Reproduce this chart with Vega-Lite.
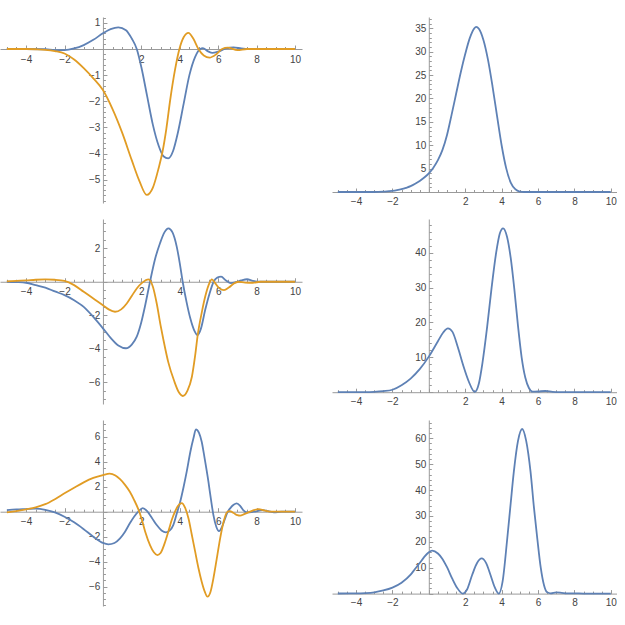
{
 "$schema": "https://vega.github.io/schema/vega-lite/v6.json",
 "background": "white",
 "padding": {"left": 0, "top": 12, "right": 0, "bottom": 0},
 "config": {"view": {"stroke": null}, "axis": {"grid": false, "domainColor": "#9a9a9a", "tickColor": "#9a9a9a", "labelColor": "#444444", "labelFont": "Liberation Sans", "labelFontSize": 10, "labelOverlap": false, "labelFlush": false, "labelBound": false, "format": "d"}},
 "datasets": {
  "A": [
   {"x":-5,"y":0,"s":"re"},{"x":-4,"y":0,"s":"re"},{"x":-3,"y":-0.01,"s":"re"},{"x":-2.5,"y":-0.04,"s":"re"},{"x":-2,"y":-0.04,"s":"re"},{"x":-1.5,"y":0.02,"s":"re"},{"x":-1,"y":0.15,"s":"re"},{"x":-0.5,"y":0.35,"s":"re"},{"x":0,"y":0.6,"s":"re"},{"x":0.4,"y":0.76,"s":"re"},{"x":0.8,"y":0.83,"s":"re"},{"x":1.2,"y":0.72,"s":"re"},{"x":1.5,"y":0.4,"s":"re"},{"x":1.76,"y":0,"s":"re"},{"x":2,"y":-0.7,"s":"re"},{"x":2.3,"y":-1.8,"s":"re"},{"x":2.6,"y":-2.9,"s":"re"},{"x":2.9,"y":-3.7,"s":"re"},{"x":3.15,"y":-4.1,"s":"re"},{"x":3.4,"y":-4.18,"s":"re"},{"x":3.65,"y":-3.9,"s":"re"},{"x":3.9,"y":-3.2,"s":"re"},{"x":4.2,"y":-2.1,"s":"re"},{"x":4.5,"y":-1,"s":"re"},{"x":4.8,"y":-0.3,"s":"re"},{"x":5.06,"y":0,"s":"re"},{"x":5.2,"y":0.03,"s":"re"},{"x":5.45,"y":-0.08,"s":"re"},{"x":5.7,"y":-0.15,"s":"re"},{"x":6,"y":-0.1,"s":"re"},{"x":6.4,"y":0.02,"s":"re"},{"x":6.8,"y":0.06,"s":"re"},{"x":7.2,"y":0.02,"s":"re"},{"x":7.6,"y":0,"s":"re"},{"x":10,"y":0,"s":"re"},
   {"x":-5,"y":0,"s":"im"},{"x":-4,"y":0,"s":"im"},{"x":-3.5,"y":-0.01,"s":"im"},{"x":-3,"y":-0.03,"s":"im"},{"x":-2.5,"y":-0.08,"s":"im"},{"x":-2,"y":-0.17,"s":"im"},{"x":-1.5,"y":-0.4,"s":"im"},{"x":-1,"y":-0.73,"s":"im"},{"x":-0.5,"y":-1.12,"s":"im"},{"x":0,"y":-1.57,"s":"im"},{"x":0.5,"y":-2.3,"s":"im"},{"x":1,"y":-3.2,"s":"im"},{"x":1.5,"y":-4.25,"s":"im"},{"x":1.9,"y":-5.05,"s":"im"},{"x":2.28,"y":-5.58,"s":"im"},{"x":2.6,"y":-5.3,"s":"im"},{"x":2.9,"y":-4.55,"s":"im"},{"x":3.1,"y":-3.93,"s":"im"},{"x":3.3,"y":-3.05,"s":"im"},{"x":3.5,"y":-1.95,"s":"im"},{"x":3.75,"y":-0.8,"s":"im"},{"x":3.98,"y":0,"s":"im"},{"x":4.2,"y":0.45,"s":"im"},{"x":4.45,"y":0.62,"s":"im"},{"x":4.7,"y":0.4,"s":"im"},{"x":4.97,"y":0,"s":"im"},{"x":5.25,"y":-0.25,"s":"im"},{"x":5.55,"y":-0.33,"s":"im"},{"x":5.9,"y":-0.2,"s":"im"},{"x":6.2,"y":0,"s":"im"},{"x":6.5,"y":0.05,"s":"im"},{"x":7,"y":-0.04,"s":"im"},{"x":7.5,"y":0,"s":"im"},{"x":10,"y":0,"s":"im"}
  ],
  "B": [
   {"x":-5,"y":0},{"x":-3,"y":0},{"x":-2.5,"y":0.07},{"x":-2,"y":0.22},{"x":-1.75,"y":0.38},{"x":-1.5,"y":0.6},{"x":-1.25,"y":0.9},{"x":-1,"y":1.25},{"x":-0.75,"y":1.75},{"x":-0.5,"y":2.35},{"x":-0.25,"y":3.1},{"x":0,"y":4},{"x":0.25,"y":5.2},{"x":0.5,"y":6.8},{"x":0.75,"y":9},{"x":1,"y":12.2},{"x":1.25,"y":16.5},{"x":1.5,"y":21},{"x":1.75,"y":25.5},{"x":2,"y":29.5},{"x":2.25,"y":32.9},{"x":2.5,"y":35},{"x":2.6,"y":35.3},{"x":2.75,"y":34.9},{"x":3,"y":32.5},{"x":3.25,"y":28.3},{"x":3.5,"y":22.6},{"x":3.75,"y":16.2},{"x":4,"y":10},{"x":4.25,"y":5.1},{"x":4.5,"y":2},{"x":4.75,"y":0.6},{"x":5,"y":0.1},{"x":5.25,"y":0},{"x":10,"y":0}
  ],
  "C": [
   {"x":-5,"y":0,"s":"re"},{"x":-4.5,"y":-0.02,"s":"re"},{"x":-4,"y":-0.06,"s":"re"},{"x":-3.5,"y":-0.2,"s":"re"},{"x":-3,"y":-0.35,"s":"re"},{"x":-2.5,"y":-0.58,"s":"re"},{"x":-2,"y":-0.8,"s":"re"},{"x":-1.5,"y":-1.1,"s":"re"},{"x":-1,"y":-1.5,"s":"re"},{"x":-0.5,"y":-2.1,"s":"re"},{"x":0,"y":-2.78,"s":"re"},{"x":0.4,"y":-3.35,"s":"re"},{"x":0.8,"y":-3.8,"s":"re"},{"x":1.2,"y":-3.97,"s":"re"},{"x":1.5,"y":-3.75,"s":"re"},{"x":1.76,"y":-3.28,"s":"re"},{"x":2,"y":-2.4,"s":"re"},{"x":2.2,"y":-1.4,"s":"re"},{"x":2.45,"y":0,"s":"re"},{"x":2.7,"y":1.3,"s":"re"},{"x":2.97,"y":2.3,"s":"re"},{"x":3.2,"y":2.95,"s":"re"},{"x":3.41,"y":3.19,"s":"re"},{"x":3.62,"y":2.95,"s":"re"},{"x":3.84,"y":2.1,"s":"re"},{"x":4,"y":1.1,"s":"re"},{"x":4.15,"y":0,"s":"re"},{"x":4.35,"y":-1.2,"s":"re"},{"x":4.55,"y":-2.2,"s":"re"},{"x":4.75,"y":-2.9,"s":"re"},{"x":4.93,"y":-3.18,"s":"re"},{"x":5.1,"y":-2.8,"s":"re"},{"x":5.32,"y":-1.69,"s":"re"},{"x":5.55,"y":-0.7,"s":"re"},{"x":5.76,"y":0,"s":"re"},{"x":5.95,"y":0.25,"s":"re"},{"x":6.15,"y":0.3,"s":"re"},{"x":6.4,"y":0.08,"s":"re"},{"x":6.65,"y":-0.08,"s":"re"},{"x":6.9,"y":-0.03,"s":"re"},{"x":7.2,"y":0.08,"s":"re"},{"x":7.5,"y":0.15,"s":"re"},{"x":7.8,"y":0.05,"s":"re"},{"x":8.2,"y":0,"s":"re"},{"x":10,"y":0,"s":"re"},
   {"x":-5,"y":0.02,"s":"im"},{"x":-4.5,"y":0.05,"s":"im"},{"x":-4,"y":0.08,"s":"im"},{"x":-3.5,"y":0.12,"s":"im"},{"x":-3,"y":0.14,"s":"im"},{"x":-2.5,"y":0.12,"s":"im"},{"x":-2,"y":0.05,"s":"im"},{"x":-1.5,"y":-0.2,"s":"im"},{"x":-1,"y":-0.6,"s":"im"},{"x":-0.5,"y":-1,"s":"im"},{"x":0,"y":-1.4,"s":"im"},{"x":0.3,"y":-1.65,"s":"im"},{"x":0.63,"y":-1.79,"s":"im"},{"x":0.95,"y":-1.65,"s":"im"},{"x":1.24,"y":-1.3,"s":"im"},{"x":1.5,"y":-0.85,"s":"im"},{"x":1.76,"y":-0.4,"s":"im"},{"x":2.05,"y":-0.05,"s":"im"},{"x":2.37,"y":0.14,"s":"im"},{"x":2.6,"y":-0.3,"s":"im"},{"x":2.8,"y":-1.3,"s":"im"},{"x":3,"y":-2.6,"s":"im"},{"x":3.15,"y":-3.48,"s":"im"},{"x":3.4,"y":-4.8,"s":"im"},{"x":3.7,"y":-5.9,"s":"im"},{"x":3.95,"y":-6.6,"s":"im"},{"x":4.15,"y":-6.82,"s":"im"},{"x":4.4,"y":-6.5,"s":"im"},{"x":4.63,"y":-5.67,"s":"im"},{"x":4.8,"y":-4.4,"s":"im"},{"x":4.93,"y":-3.2,"s":"im"},{"x":5.15,"y":-1.8,"s":"im"},{"x":5.32,"y":-0.9,"s":"im"},{"x":5.5,"y":-0.2,"s":"im"},{"x":5.67,"y":0.14,"s":"im"},{"x":5.85,"y":-0.1,"s":"im"},{"x":6.05,"y":-0.38,"s":"im"},{"x":6.3,"y":-0.5,"s":"im"},{"x":6.55,"y":-0.35,"s":"im"},{"x":6.8,"y":-0.12,"s":"im"},{"x":7.05,"y":0,"s":"im"},{"x":7.4,"y":-0.05,"s":"im"},{"x":7.8,"y":-0.06,"s":"im"},{"x":8.2,"y":0,"s":"im"},{"x":10,"y":0,"s":"im"}
  ],
  "D": [
   {"x":-5,"y":0},{"x":-3.5,"y":0.02},{"x":-3,"y":0.1},{"x":-2.5,"y":0.3},{"x":-2,"y":0.7},{"x":-1.5,"y":2},{"x":-1,"y":3.9},{"x":-0.5,"y":6.6},{"x":0,"y":10.2},{"x":0.5,"y":14.6},{"x":0.8,"y":17.2},{"x":1.05,"y":18.3},{"x":1.3,"y":17.3},{"x":1.6,"y":12.8},{"x":1.9,"y":7.5},{"x":2.2,"y":3},{"x":2.52,"y":0.1},{"x":2.75,"y":2.5},{"x":2.95,"y":8.5},{"x":3.2,"y":18.5},{"x":3.45,"y":30},{"x":3.7,"y":40},{"x":3.9,"y":45.5},{"x":4.08,"y":47},{"x":4.3,"y":44.5},{"x":4.5,"y":38.5},{"x":4.7,"y":29.5},{"x":4.9,"y":19},{"x":5.1,"y":10},{"x":5.3,"y":4.2},{"x":5.5,"y":1.2},{"x":5.7,"y":0.15},{"x":6,"y":0.2},{"x":6.4,"y":0.35},{"x":6.8,"y":0.1},{"x":7.2,"y":0.03},{"x":7.6,"y":0.05},{"x":8,"y":0},{"x":10,"y":0}
  ],
  "E": [
   {"x":-5,"y":0.13,"s":"re"},{"x":-4.5,"y":0.18,"s":"re"},{"x":-4,"y":0.21,"s":"re"},{"x":-3.5,"y":0.24,"s":"re"},{"x":-3,"y":0.15,"s":"re"},{"x":-2.5,"y":-0.05,"s":"re"},{"x":-2,"y":-0.4,"s":"re"},{"x":-1.5,"y":-0.85,"s":"re"},{"x":-1,"y":-1.4,"s":"re"},{"x":-0.5,"y":-2,"s":"re"},{"x":0,"y":-2.5,"s":"re"},{"x":0.28,"y":-2.61,"s":"re"},{"x":0.6,"y":-2.5,"s":"re"},{"x":0.89,"y":-2.13,"s":"re"},{"x":1.15,"y":-1.6,"s":"re"},{"x":1.4,"y":-0.93,"s":"re"},{"x":1.62,"y":-0.4,"s":"re"},{"x":1.84,"y":0,"s":"re"},{"x":2.07,"y":0.28,"s":"re"},{"x":2.3,"y":0.05,"s":"re"},{"x":2.55,"y":-0.5,"s":"re"},{"x":2.8,"y":-1.07,"s":"re"},{"x":3.05,"y":-1.5,"s":"re"},{"x":3.28,"y":-1.65,"s":"re"},{"x":3.48,"y":-1.5,"s":"re"},{"x":3.66,"y":-1.07,"s":"re"},{"x":3.85,"y":-0.1,"s":"re"},{"x":4,"y":0.67,"s":"re"},{"x":4.2,"y":2,"s":"re"},{"x":4.36,"y":3.2,"s":"re"},{"x":4.55,"y":4.8,"s":"re"},{"x":4.71,"y":5.87,"s":"re"},{"x":4.84,"y":6.59,"s":"re"},{"x":5,"y":6.3,"s":"re"},{"x":5.14,"y":5.6,"s":"re"},{"x":5.3,"y":4.2,"s":"re"},{"x":5.49,"y":2.4,"s":"re"},{"x":5.62,"y":1,"s":"re"},{"x":5.75,"y":-0.27,"s":"re"},{"x":5.9,"y":-1.2,"s":"re"},{"x":6.04,"y":-1.55,"s":"re"},{"x":6.2,"y":-1.2,"s":"re"},{"x":6.36,"y":-0.53,"s":"re"},{"x":6.5,"y":0,"s":"re"},{"x":6.62,"y":0.27,"s":"re"},{"x":6.8,"y":0.55,"s":"re"},{"x":6.96,"y":0.67,"s":"re"},{"x":7.15,"y":0.45,"s":"re"},{"x":7.3,"y":0.13,"s":"re"},{"x":7.5,"y":-0.05,"s":"re"},{"x":7.85,"y":0,"s":"re"},{"x":8.3,"y":0.12,"s":"re"},{"x":8.6,"y":0.05,"s":"re"},{"x":8.9,"y":-0.05,"s":"re"},{"x":9.3,"y":0,"s":"re"},{"x":10,"y":0,"s":"re"},
   {"x":-5,"y":-0.05,"s":"im"},{"x":-4.5,"y":0.05,"s":"im"},{"x":-4,"y":0.19,"s":"im"},{"x":-3.5,"y":0.35,"s":"im"},{"x":-3,"y":0.6,"s":"im"},{"x":-2.5,"y":1,"s":"im"},{"x":-2,"y":1.47,"s":"im"},{"x":-1.5,"y":1.92,"s":"im"},{"x":-1,"y":2.35,"s":"im"},{"x":-0.5,"y":2.7,"s":"im"},{"x":0,"y":2.93,"s":"im"},{"x":0.35,"y":3.05,"s":"im"},{"x":0.65,"y":2.9,"s":"im"},{"x":0.89,"y":2.6,"s":"im"},{"x":1.15,"y":2.15,"s":"im"},{"x":1.4,"y":1.6,"s":"im"},{"x":1.62,"y":0.95,"s":"im"},{"x":1.84,"y":0.2,"s":"im"},{"x":2,"y":-0.5,"s":"im"},{"x":2.2,"y":-1.6,"s":"im"},{"x":2.45,"y":-2.67,"s":"im"},{"x":2.65,"y":-3.25,"s":"im"},{"x":2.83,"y":-3.47,"s":"im"},{"x":3,"y":-3.3,"s":"im"},{"x":3.24,"y":-2.4,"s":"im"},{"x":3.42,"y":-1.5,"s":"im"},{"x":3.58,"y":-0.67,"s":"im"},{"x":3.75,"y":0,"s":"im"},{"x":3.9,"y":0.45,"s":"im"},{"x":4.1,"y":0.69,"s":"im"},{"x":4.28,"y":0.3,"s":"im"},{"x":4.45,"y":-0.53,"s":"im"},{"x":4.62,"y":-1.8,"s":"im"},{"x":4.8,"y":-3.2,"s":"im"},{"x":4.97,"y":-4.5,"s":"im"},{"x":5.14,"y":-5.6,"s":"im"},{"x":5.3,"y":-6.4,"s":"im"},{"x":5.44,"y":-6.8,"s":"im"},{"x":5.6,"y":-6.4,"s":"im"},{"x":5.75,"y":-5.33,"s":"im"},{"x":5.92,"y":-3.8,"s":"im"},{"x":6.1,"y":-2.13,"s":"im"},{"x":6.28,"y":-0.8,"s":"im"},{"x":6.45,"y":-0.05,"s":"im"},{"x":6.6,"y":0.05,"s":"im"},{"x":6.8,"y":-0.1,"s":"im"},{"x":7,"y":-0.28,"s":"im"},{"x":7.14,"y":-0.32,"s":"im"},{"x":7.35,"y":-0.2,"s":"im"},{"x":7.65,"y":0,"s":"im"},{"x":7.85,"y":0.12,"s":"im"},{"x":8.1,"y":0.21,"s":"im"},{"x":8.4,"y":0.1,"s":"im"},{"x":8.8,"y":0,"s":"im"},{"x":10,"y":0,"s":"im"}
  ],
  "F": [
   {"x":-5,"y":0.03},{"x":-4,"y":0.08},{"x":-3.5,"y":0.2},{"x":-3,"y":0.5},{"x":-2.5,"y":1.2},{"x":-2,"y":2.3},{"x":-1.5,"y":4.2},{"x":-1,"y":7.3},{"x":-0.75,"y":9.6},{"x":-0.5,"y":11.8},{"x":-0.25,"y":14.2},{"x":0,"y":16},{"x":0.18,"y":16.6},{"x":0.5,"y":15.5},{"x":0.73,"y":13.6},{"x":1,"y":10.2},{"x":1.28,"y":5.9},{"x":1.55,"y":2.3},{"x":1.86,"y":0},{"x":2.1,"y":1.6},{"x":2.38,"y":7.2},{"x":2.65,"y":11.8},{"x":2.9,"y":13.6},{"x":3.15,"y":11.8},{"x":3.39,"y":7.2},{"x":3.62,"y":2.5},{"x":3.85,"y":0},{"x":4.05,"y":4.5},{"x":4.31,"y":21.3},{"x":4.5,"y":35},{"x":4.67,"y":47},{"x":4.9,"y":59},{"x":5.13,"y":63.6},{"x":5.35,"y":59},{"x":5.59,"y":47},{"x":5.78,"y":33},{"x":5.96,"y":21.3},{"x":6.15,"y":10},{"x":6.33,"y":3.2},{"x":6.5,"y":0.5},{"x":6.7,"y":0.1},{"x":7,"y":0.5},{"x":7.3,"y":0.3},{"x":7.6,"y":0.05},{"x":8,"y":0.1},{"x":8.5,"y":0},{"x":10,"y":0}
  ]
 },
 "columns": 2,
 "spacing": {"row": 16, "column": 30},
 "bounds": "flush",
 "align": "each",
 "resolve": {"scale": {"x": "independent", "y": "independent", "color": "independent"}, "axis": {"x": "independent", "y": "independent"}},
 "concat": [
    {"width": 302, "height": 186, "data": {"name": "A"},
     "mark": {"type": "line", "interpolate": "monotone", "strokeWidth": 1.8},
     "encoding": {
      "x": {"field": "x", "type": "quantitative", "scale": {"domain": [-5.357, 10.36], "nice": false, "zero": false},
            "axis": {"title": null, "orient": "bottom", "offset": -154, "values": [-5,-4.5,-4,-3.5,-3,-2.5,-2,-1.5,-1,-0.5,0,0.5,1,1.5,2,2.5,3,3.5,4,4.5,5,5.5,6,6.5,7,7.5,8,8.5,9,9.5,10],
                     "labelExpr": "abs(datum.value/2 - round(datum.value/2)) < 0.01 && datum.value != 0 ? datum.label : ''",
                     "tickSize": {"condition": {"test": "abs(datum.value/2 - round(datum.value/2)) < 0.01", "value": -4}, "value": -2.5},
                     "labelPadding": 9, "labelBaseline": "top"}},
      "y": {"field": "y", "type": "quantitative", "scale": {"domain": [-5.889, 1.224], "nice": false, "zero": false},
            "axis": {"title": null, "orient": "left", "offset": -102.93, "values": [-5.8,-5.6,-5.4,-5.2,-5,-4.8,-4.6,-4.4,-4.2,-4,-3.8,-3.6,-3.4,-3.2,-3,-2.8,-2.6,-2.4,-2.2,-2,-1.8,-1.6,-1.4,-1.2,-1,-0.8,-0.6,-0.4,-0.2,0,0.2,0.4,0.6,0.8,1,1.2],
                     "labelExpr": "abs(datum.value - round(datum.value)) < 0.01 && datum.value != 0 ? datum.label : ''",
                     "tickSize": {"condition": {"test": "abs(datum.value - round(datum.value)) < 0.01", "value": -4}, "value": -2.5},
                     "labelPadding": 7}},
      "color": {"field": "s", "type": "nominal", "scale": {"domain": ["re", "im"], "range": ["#5E81B5", "#E19C24"]}, "legend": null}
     }},
    {"width": 285, "height": 175, "data": {"name": "B"},
     "mark": {"type": "line", "interpolate": "monotone", "strokeWidth": 1.8, "color": "#5E81B5"},
     "encoding": {
      "x": {"field": "x", "type": "quantitative", "scale": {"domain": [-5.32, 10.34], "nice": false, "zero": false},
            "axis": {"title": null, "orient": "bottom", "values": [-5,-4.5,-4,-3.5,-3,-2.5,-2,-1.5,-1,-0.5,0,0.5,1,1.5,2,2.5,3,3.5,4,4.5,5,5.5,6,6.5,7,7.5,8,8.5,9,9.5,10],
                     "labelExpr": "abs(datum.value/2 - round(datum.value/2)) < 0.01 && datum.value != 0 ? datum.label : ''",
                     "tickSize": {"condition": {"test": "abs(datum.value/2 - round(datum.value/2)) < 0.01", "value": -4}, "value": -2.5},
                     "labelPadding": 8, "labelBaseline": "top"}},
      "y": {"field": "y", "type": "quantitative", "scale": {"domain": [0, 37.42], "nice": false, "zero": false},
            "axis": {"title": null, "orient": "left", "offset": -96.8, "values": [0,1,2,3,4,5,6,7,8,9,10,11,12,13,14,15,16,17,18,19,20,21,22,23,24,25,26,27,28,29,30,31,32,33,34,35,36,37],
                     "labelExpr": "abs(datum.value/5 - round(datum.value/5)) < 0.01 && datum.value != 0 ? datum.label : ''",
                     "tickSize": {"condition": {"test": "abs(datum.value/5 - round(datum.value/5)) < 0.01", "value": -4}, "value": -2.5},
                     "labelPadding": 7}}
     }},
    {"width": 302, "height": 185, "data": {"name": "C"},
     "mark": {"type": "line", "interpolate": "monotone", "strokeWidth": 1.8},
     "encoding": {
      "x": {"field": "x", "type": "quantitative", "scale": {"domain": [-5.357, 10.36], "nice": false, "zero": false},
            "axis": {"title": null, "orient": "bottom", "offset": -122.25, "values": [-5,-4.5,-4,-3.5,-3,-2.5,-2,-1.5,-1,-0.5,0,0.5,1,1.5,2,2.5,3,3.5,4,4.5,5,5.5,6,6.5,7,7.5,8,8.5,9,9.5,10],
                     "labelExpr": "abs(datum.value/2 - round(datum.value/2)) < 0.01 && datum.value != 0 ? datum.label : ''",
                     "tickSize": {"condition": {"test": "abs(datum.value/2 - round(datum.value/2)) < 0.01", "value": -4}, "value": -2.5},
                     "labelPadding": 9, "labelBaseline": "top"}},
      "y": {"field": "y", "type": "quantitative", "scale": {"domain": [-7.299, 3.746], "nice": false, "zero": false},
            "axis": {"title": null, "orient": "left", "offset": -102.93, "values": [-7,-6.5,-6,-5.5,-5,-4.5,-4,-3.5,-3,-2.5,-2,-1.5,-1,-0.5,0,0.5,1,1.5,2,2.5,3,3.5],
                     "labelExpr": "abs(datum.value/2 - round(datum.value/2)) < 0.01 && datum.value != 0 ? datum.label : ''",
                     "tickSize": {"condition": {"test": "abs(datum.value/2 - round(datum.value/2)) < 0.01", "value": -4}, "value": -2.5},
                     "labelPadding": 7}},
      "color": {"field": "s", "type": "nominal", "scale": {"domain": ["re", "im"], "range": ["#5E81B5", "#E19C24"]}, "legend": null}
     }},
    {"width": 285, "height": 173.2, "data": {"name": "D"},
     "mark": {"type": "line", "interpolate": "monotone", "strokeWidth": 1.8, "color": "#5E81B5"},
     "encoding": {
      "x": {"field": "x", "type": "quantitative", "scale": {"domain": [-5.32, 10.34], "nice": false, "zero": false},
            "axis": {"title": null, "orient": "bottom", "values": [-5,-4.5,-4,-3.5,-3,-2.5,-2,-1.5,-1,-0.5,0,0.5,1,1.5,2,2.5,3,3.5,4,4.5,5,5.5,6,6.5,7,7.5,8,8.5,9,9.5,10],
                     "labelExpr": "abs(datum.value/2 - round(datum.value/2)) < 0.01 && datum.value != 0 ? datum.label : ''",
                     "tickSize": {"condition": {"test": "abs(datum.value/2 - round(datum.value/2)) < 0.01", "value": -4}, "value": -2.5},
                     "labelPadding": 8, "labelBaseline": "top"}},
      "y": {"field": "y", "type": "quantitative", "scale": {"domain": [0, 49.67], "nice": false, "zero": false},
            "axis": {"title": null, "orient": "left", "offset": -96.8, "values": [0,2,4,6,8,10,12,14,16,18,20,22,24,26,28,30,32,34,36,38,40,42,44,46,48],
                     "labelExpr": "abs(datum.value/10 - round(datum.value/10)) < 0.01 && datum.value != 0 ? datum.label : ''",
                     "tickSize": {"condition": {"test": "abs(datum.value/10 - round(datum.value/10)) < 0.01", "value": -4}, "value": -2.5},
                     "labelPadding": 7}}
     }},
    {"width": 302, "height": 186, "data": {"name": "E"},
     "mark": {"type": "line", "interpolate": "monotone", "strokeWidth": 1.8},
     "encoding": {
      "x": {"field": "x", "type": "quantitative", "scale": {"domain": [-5.357, 10.36], "nice": false, "zero": false},
            "axis": {"title": null, "orient": "bottom", "offset": -94.3, "values": [-5,-4.5,-4,-3.5,-3,-2.5,-2,-1.5,-1,-0.5,0,0.5,1,1.5,2,2.5,3,3.5,4,4.5,5,5.5,6,6.5,7,7.5,8,8.5,9,9.5,10],
                     "labelExpr": "abs(datum.value/2 - round(datum.value/2)) < 0.01 && datum.value != 0 ? datum.label : ''",
                     "tickSize": {"condition": {"test": "abs(datum.value/2 - round(datum.value/2)) < 0.01", "value": -4}, "value": -2.5},
                     "labelPadding": 9, "labelBaseline": "top"}},
      "y": {"field": "y", "type": "quantitative", "scale": {"domain": [-7.544, 7.336], "nice": false, "zero": false},
            "axis": {"title": null, "orient": "left", "offset": -102.93, "values": [-7.5,-7,-6.5,-6,-5.5,-5,-4.5,-4,-3.5,-3,-2.5,-2,-1.5,-1,-0.5,0,0.5,1,1.5,2,2.5,3,3.5,4,4.5,5,5.5,6,6.5,7],
                     "labelExpr": "abs(datum.value/2 - round(datum.value/2)) < 0.01 && datum.value != 0 ? datum.label : ''",
                     "tickSize": {"condition": {"test": "abs(datum.value/2 - round(datum.value/2)) < 0.01", "value": -4}, "value": -2.5},
                     "labelPadding": 7}},
      "color": {"field": "s", "type": "nominal", "scale": {"domain": ["re", "im"], "range": ["#5E81B5", "#E19C24"]}, "legend": null}
     }},
    {"width": 285, "height": 173.6, "data": {"name": "F"},
     "mark": {"type": "line", "interpolate": "monotone", "strokeWidth": 1.8, "color": "#5E81B5"},
     "encoding": {
      "x": {"field": "x", "type": "quantitative", "scale": {"domain": [-5.32, 10.34], "nice": false, "zero": false},
            "axis": {"title": null, "orient": "bottom", "values": [-5,-4.5,-4,-3.5,-3,-2.5,-2,-1.5,-1,-0.5,0,0.5,1,1.5,2,2.5,3,3.5,4,4.5,5,5.5,6,6.5,7,7.5,8,8.5,9,9.5,10],
                     "labelExpr": "abs(datum.value/2 - round(datum.value/2)) < 0.01 && datum.value != 0 ? datum.label : ''",
                     "tickSize": {"condition": {"test": "abs(datum.value/2 - round(datum.value/2)) < 0.01", "value": -4}, "value": -2.5},
                     "labelPadding": 8, "labelBaseline": "top"}},
      "y": {"field": "y", "type": "quantitative", "scale": {"domain": [0, 67.08], "nice": false, "zero": false},
            "axis": {"title": null, "orient": "left", "offset": -96.8, "values": [0,2,4,6,8,10,12,14,16,18,20,22,24,26,28,30,32,34,36,38,40,42,44,46,48,50,52,54,56,58,60,62,64,66],
                     "labelExpr": "abs(datum.value/10 - round(datum.value/10)) < 0.01 && datum.value != 0 ? datum.label : ''",
                     "tickSize": {"condition": {"test": "abs(datum.value/10 - round(datum.value/10)) < 0.01", "value": -4}, "value": -2.5},
                     "labelPadding": 7}}
     }}
 ]
}
